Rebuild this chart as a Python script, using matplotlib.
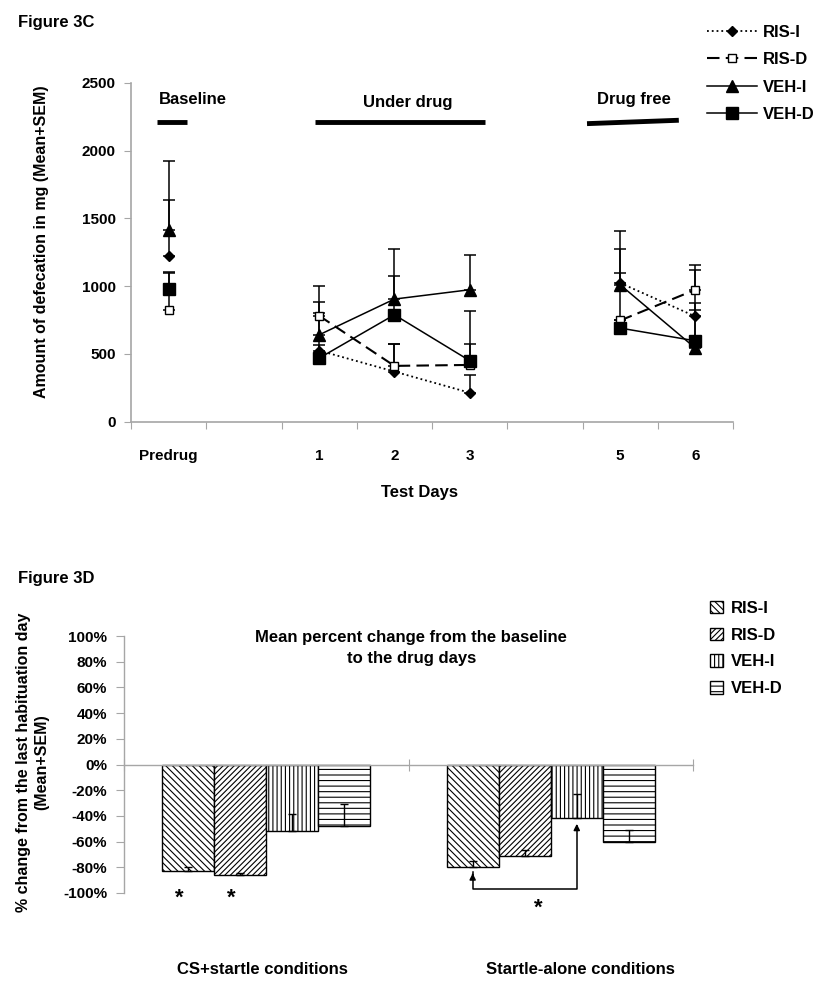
import numpy as np
import matplotlib
matplotlib.use("Agg")
import matplotlib.pyplot as plt
from matplotlib.lines import Line2D
from matplotlib.patches import Patch

plt.rcParams["font.family"] = ["Liberation Sans", "DejaVu Sans"]
plt.rcParams["font.weight"] = "bold"
plt.rcParams["hatch.linewidth"] = 0.8

# ---- Figure 3C data (index 1 and 5 are empty slots on the axis) ----
days = ["Predrug", "", "1", "2", "3", "", "5", "6"]
nan = np.nan
ris_i_mean = [1225, nan, 525, 370, 214, nan, 1024, 777]
ris_i_sem = [415, nan, 40, 205, 131, nan, 250, 343]
ris_d_mean = [826, nan, 782, 412, 419, nan, 747, 974]
ris_d_sem = [275, nan, 105, 165, 156, nan, 350, 185]
veh_i_mean = [1416, nan, 641, 905, 974, nan, 1011, 543]
veh_i_sem = [507, nan, 363, 370, 259, nan, 400, 278]
veh_d_mean = [981, nan, 469, 789, 451, nan, 691, 597]
veh_d_sem = [121, nan, 335, 289, 363, nan, 60, 279]

# ---- Figure 3D data ----
conditions = ["CS+startle conditions", "Startle-alone conditions"]
groups = ["RIS-I", "RIS-D", "VEH-I", "VEH-D"]
pct_ris_i = [-83, -80]
pct_ris_d = [-86, -71]
pct_veh_i = [-52, -42]
pct_veh_d = [-48, -60]
err_ris_i = [3.5, 5]
err_ris_d = [1.5, 4.5]
err_veh_i = [13.5, 19]
err_veh_d = [17.5, 9]

GRAY = "#a6a6a6"
W, H = 825, 990

fig = plt.figure(figsize=(W / 100, H / 100), dpi=100)


def box(l, t, r, b):
    return [l / W, 1 - b / H, (r - l) / W, (b - t) / H]


# ================= top panel =================
ax = fig.add_axes(box(131, 83, 733, 421.7))
x = np.arange(len(days))

series = [
    ("RIS-I", ris_i_mean, ris_i_sem, dict(ls=":", marker="D", ms=5, mfc="black", lw=1.3)),
    ("RIS-D", ris_d_mean, ris_d_sem, dict(ls=(0, (6, 3)), marker="s", ms=6, mfc="white", lw=1.5)),
    ("VEH-I", veh_i_mean, veh_i_sem, dict(ls="-", marker="^", ms=9, mfc="black", lw=1.1)),
    ("VEH-D", veh_d_mean, veh_d_sem, dict(ls="-", marker="s", ms=9, mfc="black", lw=1.1)),
]
handles = []
for name, m, s, st in series:
    m = np.array(m, dtype=float)
    s = np.array(s, dtype=float)
    ax.errorbar(x, m, yerr=[np.zeros_like(s), s], fmt="none", ecolor="black",
                elinewidth=1.1, capsize=4, capthick=1.1, zorder=2)
    ax.plot(x, m, color="black", mec="black", zorder=3, **st)
    handles.append(Line2D([], [], color="black", mec="black", label=name, **st))

ax.set_xlim(-0.5, 7.5)
ax.set_ylim(0, 2500)
ax.set_yticks(np.arange(0, 2501, 500))
ax.set_xticks(np.arange(-0.5, 8, 1))
ax.set_xticklabels([])
ax.set_xticks(x, minor=True)
ax.set_xticklabels(days, minor=True)
ax.tick_params(axis="x", which="minor", length=0, pad=20, labelsize=11)
ax.tick_params(axis="x", which="major", length=5, color=GRAY)
ax.tick_params(axis="y", length=5, color=GRAY, labelsize=11, pad=6)
for sp in ["top", "right"]:
    ax.spines[sp].set_visible(False)
for sp in ["left", "bottom"]:
    ax.spines[sp].set_color(GRAY)
    ax.spines[sp].set_linewidth(1.2)

# phase brackets
ax.plot([-0.15, 0.24], [2210, 2210], color="black", lw=3.5, solid_capstyle="butt")
ax.plot([1.94, 4.21], [2210, 2210], color="black", lw=3.5, solid_capstyle="butt")
ax.plot([5.56, 6.78], [2200, 2225], color="black", lw=3.5, solid_capstyle="butt")
ax.text(0.32, 2320, "Baseline", ha="center", va="bottom", fontsize=12)
ax.text(3.18, 2300, "Under drug", ha="center", va="bottom", fontsize=12)
ax.text(6.19, 2320, "Drug free", ha="center", va="bottom", fontsize=12)

fig.text(18 / W, 1 - 22 / H, "Figure 3C", fontsize=12, va="center")
fig.text(42 / W, 1 - 242 / H, "Amount of defecation in mg (Mean+SEM)",
         rotation=90, ha="center", va="center", fontsize=11.5)
fig.text(420 / W, 1 - 492 / H, "Test Days", ha="center", va="center", fontsize=12)

fig.legend(handles=handles, loc="upper left", bbox_to_anchor=(700 / W, 1 - 18 / H),
           frameon=False, fontsize=12, handlelength=3.0, handletextpad=0.4,
           labelspacing=0.75, borderaxespad=0)

# ================= bottom panel =================
bx = fig.add_axes(box(124, 636, 693, 893))
bar_vals = [pct_ris_i, pct_ris_d, pct_veh_i, pct_veh_d]
bar_errs = [err_ris_i, err_ris_d, err_veh_i, err_veh_d]
hatches = ["\\\\\\\\\\", "//////", "||||", "---"]
bw = 0.183
offs = (np.arange(4) - 1.5) * bw
cx = np.arange(len(conditions)) + 0.5
leg2 = []
for i in range(4):
    xs = cx + offs[i]
    bx.bar(xs, bar_vals[i], width=bw, color="white", edgecolor="black",
           hatch=hatches[i], linewidth=1.0, zorder=2)
    bx.errorbar(xs, bar_vals[i], yerr=[np.zeros(2), bar_errs[i]], fmt="none",
                ecolor="black", elinewidth=1.0, capsize=3, capthick=1.0, zorder=3)
    leg2.append(Patch(facecolor="white", edgecolor="black", hatch=hatches[i],
                      label=groups[i]))

bx.set_xlim(0, 2)
bx.set_ylim(-100, 100)
bx.set_yticks(np.arange(-100, 101, 20))
bx.set_yticklabels([f"{v}%" for v in range(-100, 101, 20)])
bx.spines["bottom"].set_position(("data", 0))
bx.set_xticks([0, 1, 2])
bx.set_xticklabels([])
bx.tick_params(axis="x", direction="inout", length=9, color=GRAY)
bx.tick_params(axis="y", length=6, color=GRAY, labelsize=11, pad=6)
for sp in ["top", "right"]:
    bx.spines[sp].set_visible(False)
for sp in ["left", "bottom"]:
    bx.spines[sp].set_color(GRAY)
    bx.spines[sp].set_linewidth(1.0)

bx.text(1.01, 91, "Mean percent change from the baseline\nto the drug days",
        ha="center", va="center", fontsize=12, linespacing=1.5)

# significance marks
bx.text(cx[0] + offs[0] - 0.03, -104, "*", ha="center", va="center", fontsize=16)
bx.text(cx[0] + offs[1] - 0.03, -104, "*", ha="center", va="center", fontsize=16)
bx.text(cx[1] - 0.045, -112, "*", ha="center", va="center", fontsize=16)
xa = cx[1] + offs[0]
xb = cx[1] + offs[2]
bx.plot([xa, xa, xb, xb], [-84, -97, -97, -48], color="black", lw=1.1, zorder=4,
        clip_on=False)
bx.annotate("", xy=(xa, -82.5), xytext=(xa, -88),
            arrowprops=dict(arrowstyle="-|>", color="black", lw=1.1, mutation_scale=9))
bx.annotate("", xy=(xb, -44), xytext=(xb, -52),
            arrowprops=dict(arrowstyle="-|>", color="black", lw=1.1, mutation_scale=9))

fig.text(18 / W, 1 - 578 / H, "Figure 3D", fontsize=12, va="center")
fig.text(33 / W, 1 - 762 / H, "% change from the last habituation day\n(Mean+SEM)",
         rotation=90, ha="center", va="center", fontsize=11.5, linespacing=1.25)
fig.text(262 / W, 1 - 970 / H, conditions[0], ha="center", va="center", fontsize=12)
fig.text(580 / W, 1 - 970 / H, conditions[1], ha="center", va="center", fontsize=12)

fig.legend(handles=leg2, loc="upper left", bbox_to_anchor=(703 / W, 1 - 594 / H),
           frameon=False, fontsize=12, handlelength=0.8, handleheight=0.8,
           handletextpad=0.5, labelspacing=0.7, borderaxespad=0)

fig.savefig("out.png", dpi=100)
